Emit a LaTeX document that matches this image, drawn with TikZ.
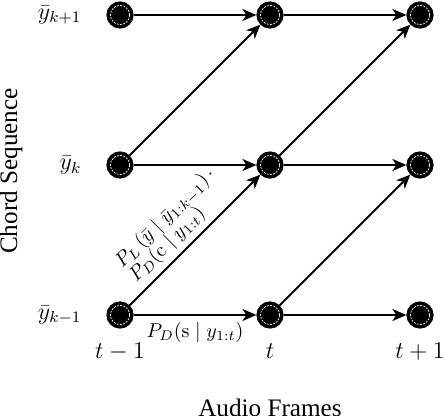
\documentclass[tikz,border=0pt]{standalone}
\usepackage{amsmath}
\usepackage{fontspec}
\newfontfamily\axisfont{Liberation Serif}
\usetikzlibrary{arrows.meta, positioning}

\begin{document}
\begin{tikzpicture}[
x=0.5pt, y=0.5pt,
node distance=75pt, on grid,
state/.style={circle, fill=black, draw=black, line width=0.6pt, minimum size=13pt, inner sep=0pt,
path picture={\draw[white, line width=0.35pt, dash pattern=on 1pt off 0.6pt]
(path picture bounding box.center) circle (4.8pt);}},
arrow/.style={-{Stealth[length=7pt, width=6pt, inset=2pt]}, line width=1pt},
axis/.style={font=\axisfont\fontsize{12.6}{15}\selectfont}
]
\useasboundingbox (-120,-101) rectangle (324,315);

\node[state] (low1) at (0,0) {};
\node[state, right=of low1] (low2) {};
\node[state, right=of low2] (low3) {};
\node[state, above=of low1] (mid1) {};
\node[state, right=of mid1] (mid2) {};
\node[state, right=of mid2] (mid3) {};
\node[state, above=of mid1] (top1) {};
\node[state, right=of top1] (top2) {};
\node[state, right=of top2] (top3) {};

\node[left=9pt of low1.west, anchor=east, font=\large] (ylow) {$\bar{y}_{k-1}$};
\node[left=9pt of mid1.west, anchor=east, font=\large] (ymid) {$\bar{y}_{k}$};
\node[left=9pt of top1.west, anchor=east, font=\large] (ytop) {$\bar{y}_{k+1}$};

\node[below=22pt of low1, anchor=base, font=\large] (t1) {$t-1$};
\node[below=22pt of low2, anchor=base, font=\large] (t2) {$t$};
\node[below=22pt of low3, anchor=base, font=\large] (t3) {$t+1$};

\node[axis, rotate=90] (chord) at (-109,144) {Chord Sequence};
\node[axis, anchor=base] (audio) at (150,-102) {Audio Frames};

\draw[arrow] (low1) -- node[below] (pds) {$P_D(\mathrm{s} \mid y_{1:t})$} (low2);
\draw[arrow] (low2) -- (low3);
\draw[arrow] (mid1) -- (mid2);
\draw[arrow] (mid2) -- (mid3);
\draw[arrow] (top1) -- (top2);
\draw[arrow] (top2) -- (top3);

\draw[arrow] (low1) -- node[above, sloped, pos=0.47, align=left, inner sep=2.5pt] (plc)
{$P_L\left(\bar{y} \mid \bar{y}_{1:k-1}\right)\cdot$\\[-2pt]$P_D(\mathrm{c} \mid y_{1:t})$} (mid2);
\draw[arrow] (low2) -- (mid3);
\draw[arrow] (mid1) -- (top2);
\draw[arrow] (mid2) -- (top3);

\end{tikzpicture}
\end{document}
